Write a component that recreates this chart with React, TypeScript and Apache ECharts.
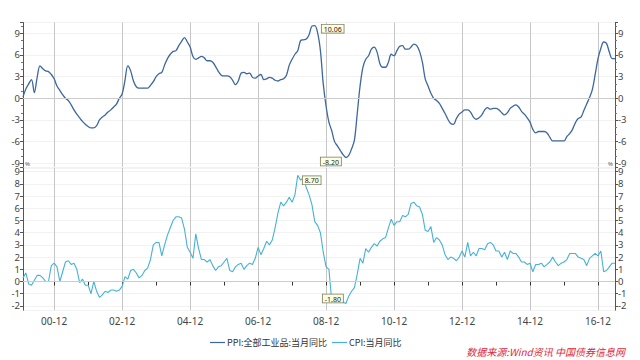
import React, { useEffect, useRef } from 'react';
import * as echarts from 'echarts';

// Monthly categories 2000-01 .. 2017-06
const months: string[] = [];
for (let y = 2000; y <= 2017; y++) {
  for (let m = 1; m <= 12; m++) {
    if (y === 2017 && m > 6) break;
    months.push(`${y}-${m < 10 ? '0' + m : m}`);
  }
}

// PPI: all industrial products, YoY (%)
const ppi = [
  0.2, 1.3, 2.0, 2.6, 0.8, 2.9, 4.5, 4.1, 3.8, 3.7, 3.3, 2.7,
  1.7, 1.1, 0.5, 0.0, -0.3, -0.9, -1.6, -2.2, -2.7, -3.2, -3.6, -3.9,
  -4.1, -4.1, -3.8, -3.0, -2.6, -2.3, -1.9, -1.6, -1.2, -0.8, 0.0, 0.6,
  2.5, 4.5, 3.8, 2.4, 1.6, 1.4, 1.4, 1.4, 1.4, 1.8, 2.3, 3.0,
  3.4, 3.6, 4.6, 5.5, 6.1, 6.5, 6.6, 7.3, 7.9, 8.4, 7.8, 7.1,
  5.8, 5.4, 5.6, 5.8, 5.6, 5.2, 5.2, 5.0, 4.4, 3.7, 3.2, 3.1,
  3.1, 3.0, 2.5, 1.9, 2.4, 3.5, 3.6, 3.4, 3.5, 2.9, 2.8, 3.1,
  3.3, 2.6, 2.7, 2.9, 2.8, 2.5, 2.4, 2.6, 2.7, 3.2, 4.6, 5.4,
  6.1, 6.6, 8.0, 8.1, 8.2, 8.8, 10.0, 10.06, 9.1, 6.6, 2.0, -1.1,
  -3.3, -4.5, -6.0, -6.6, -7.2, -7.8, -8.2, -7.9, -7.0, -5.8, -2.1, 1.7,
  4.3, 5.4, 5.9, 6.8, 7.1, 6.4, 4.8, 4.3, 4.3, 5.0, 6.1, 5.9,
  6.6, 7.2, 7.3, 6.8, 6.8, 7.1, 7.5, 7.3, 6.5, 5.0, 2.7, 1.7,
  0.7, 0.0, -0.3, -0.7, -1.4, -2.1, -2.9, -3.5, -3.6, -2.8, -2.2, -1.9,
  -1.6, -1.6, -1.9, -2.6, -2.9, -2.7, -2.3, -1.6, -1.3, -1.5, -1.4, -1.4,
  -1.6, -2.0, -2.3, -2.0, -1.4, -1.1, -0.9, -1.2, -1.8, -2.2, -2.7, -3.3,
  -4.3, -4.8, -4.6, -4.6, -4.6, -4.8, -5.4, -5.9, -5.9, -5.9, -5.9, -5.9,
  -5.3, -4.9, -4.3, -3.4, -2.8, -2.6, -1.7, -0.8, 0.1, 1.2, 3.3, 5.5,
  6.9, 7.8, 7.6, 6.4, 5.5, 5.5,
];

// CPI YoY (%)
const cpi = [
  0.3, 0.7, -0.2, -0.3, 0.1, 0.5, 0.5, 0.3, 0.0, 0.0, 1.3, 1.5,
  1.2, 0.0, 0.8, 1.6, 1.7, 1.4, 1.5, 1.0, -0.1, 0.2, -0.3, -0.3,
  -1.0, 0.0, -0.8, -1.3, -1.1, -0.8, -0.9, -0.7, -0.7, -0.8, -0.7, -0.4,
  0.4, 0.2, 0.9, 1.0, 0.7, 0.3, 0.5, 0.9, 1.1, 1.8, 3.0, 3.2,
  3.2, 2.1, 3.0, 3.8, 4.4, 5.0, 5.3, 5.3, 5.2, 4.3, 2.8, 2.4,
  1.9, 3.9, 2.7, 1.8, 1.8, 1.6, 1.8, 1.3, 0.9, 1.2, 1.3, 1.6,
  1.9, 0.9, 0.8, 1.2, 1.4, 1.5, 1.0, 1.3, 1.5, 1.4, 1.9, 2.8,
  2.2, 2.7, 3.3, 3.0, 3.4, 4.4, 5.6, 6.5, 6.2, 6.5, 6.9, 6.5,
  7.1, 8.7, 8.3, 8.5, 7.7, 7.1, 6.3, 4.9, 4.6, 4.0, 2.4, 1.2,
  1.0, -1.6, -1.2, -1.5, -1.4, -1.7, -1.8, -1.2, -0.8, -0.5, 0.6, 1.9,
  1.5, 2.7, 2.4, 2.8, 3.1, 2.9, 3.3, 3.5, 3.6, 4.4, 5.1, 4.6,
  4.9, 4.9, 5.4, 5.3, 5.5, 6.4, 6.5, 6.2, 6.1, 5.5, 4.2, 4.1,
  4.5, 3.2, 3.6, 3.4, 3.0, 2.2, 1.8, 2.0, 1.9, 1.7, 2.0, 2.5,
  2.0, 3.2, 2.1, 2.4, 2.1, 2.7, 2.7, 2.6, 3.1, 3.2, 3.0, 2.5,
  2.5, 2.0, 2.4, 1.8, 2.5, 2.3, 2.3, 2.0, 1.6, 1.6, 1.4, 1.5,
  0.8, 1.4, 1.4, 1.5, 1.2, 1.4, 1.6, 2.0, 1.6, 1.3, 1.5, 1.6,
  1.8, 2.3, 2.3, 2.3, 2.0, 1.9, 1.8, 1.3, 1.9, 2.1, 2.3, 2.1,
  2.5, 0.8, 0.9, 1.2, 1.5, 1.5,
];

const seriesNames = ['PPI:全部工业品:当月同比', 'CPI:当月同比'];
const sourceText = '数据来源:Wind资讯 中国债券信息网';

const FONT = "'Noto Sans', 'Noto Sans CJK SC', sans-serif";
const PPI_COLOR = '#3c679f';
const CPI_COLOR = '#45b2d6';

const isLabelIdx = (i: number) => i % 24 === 11;
const isTickIdx = (i: number) => i % 12 === 11;

const markLabel = {
  show: true,
  formatter: (p: any) => Number(p.value).toFixed(2),
  fontSize: 7,
  fontFamily: FONT,
  color: '#222',
  backgroundColor: '#ffffe0',
  borderColor: '#7a7a60',
  borderWidth: 0.8,
  padding: [1, 2, 0, 2],
};

function yAxisCfg(grid: number, pos: 'left' | 'right', min: number, max: number, step: number, split: boolean, withName: boolean) {
  return {
    type: 'value',
    gridIndex: grid,
    position: pos,
    min,
    max,
    minInterval: step,
    maxInterval: step,
    splitNumber: 10,
    name: withName ? '%' : '',
    nameLocation: 'end',
    nameGap: -1,
    nameTextStyle: {
      fontSize: 6,
      lineHeight: 6,
      color: '#555',
      fontFamily: FONT,
      align: pos === 'left' ? 'left' : 'right',
      verticalAlign: 'top',
      padding: pos === 'left' ? [1, 0, 0, 2] : [1, 2, 0, 0],
    },
    axisLine: { show: true, lineStyle: { color: '#555', width: 1 } },
    axisTick: { show: true, length: 3, lineStyle: { color: '#555' } },
    minorTick: step === 3 ? { show: true, splitNumber: 3, length: 2, lineStyle: { color: '#777' } } : { show: false },
    axisLabel: {
      show: true,
      fontSize: 9.5,
      lineHeight: 8,
      color: '#444',
      fontFamily: FONT,
      margin: 3,
      showMinLabel: false,
      showMaxLabel: false,
    },
    splitLine: { show: split, lineStyle: { color: '#f2f2f2', width: 1 } },
  };
}

export default function App() {
  const ref = useRef<HTMLDivElement>(null);

  useEffect(() => {
    document.body.style.margin = '0';
    if (!ref.current) return;
    const chart = echarts.init(ref.current, undefined, { renderer: 'svg' });

    const option: any = {
      animation: false,
      backgroundColor: '#ffffff',
      grid: [
        { left: 23, right: 25, top: 22.5, height: 144.4 },
        { left: 23, right: 25, top: 168, height: 142.2 },
      ],
      legend: {
        left: 205,
        top: 333,
        icon: 'rect',
        itemWidth: 15,
        itemHeight: 1.2,
        itemGap: 5,
        data: seriesNames,
        textStyle: { fontSize: 9, color: '#333', fontFamily: "'Noto Sans CJK SC', sans-serif", padding: [0, 0, 0, -3] },
      },
      xAxis: [
        {
          type: 'category',
          gridIndex: 0,
          data: months,
          boundaryGap: false,
          axisLine: { show: false },
          axisTick: { show: false },
          axisLabel: { show: false },
          splitLine: { show: true, interval: (i: number) => isLabelIdx(i), lineStyle: { color: '#c6c6c6', width: 1 } },
        },
        {
          type: 'category',
          gridIndex: 1,
          data: months,
          boundaryGap: false,
          axisLine: { show: true, lineStyle: { color: '#333', width: 1.2 } },
          axisTick: { show: true, length: 4, interval: (i: number) => isTickIdx(i), lineStyle: { color: '#333' } },
          axisLabel: {
            show: true,
            interval: (i: number) => isLabelIdx(i),
            formatter: (v: string) => v.slice(2),
            fontSize: 10,
            color: '#444',
            fontFamily: FONT,
            margin: 6,
          },
          splitLine: { show: true, interval: (i: number) => isLabelIdx(i), lineStyle: { color: '#c6c6c6', width: 1 } },
        },
      ],
      yAxis: [
        yAxisCfg(0, 'left', -9.5, 10.5, 3, true, false),
        yAxisCfg(0, 'right', -9.5, 10.5, 3, false, false),
        yAxisCfg(1, 'left', -2.35, 9.3, 1, true, true),
        yAxisCfg(1, 'right', -2.35, 9.3, 1, false, true),
      ],
      series: [
        {
          name: seriesNames[0],
          type: 'line',
          xAxisIndex: 0,
          yAxisIndex: 0,
          data: ppi,
          symbol: 'none',
          smooth: 0.35,
          lineStyle: { color: PPI_COLOR, width: 1.3 },
          itemStyle: { color: PPI_COLOR },
          markLine: {
            silent: true,
            symbol: 'none',
            label: { show: false },
            lineStyle: { color: '#cccccc', type: 'solid', width: 1 },
            data: [{ yAxis: 0 }],
          },
          markPoint: {
            symbol: 'circle',
            symbolSize: 2,
            itemStyle: { color: 'rgba(0,0,0,0)' },
            label: markLabel,
            data: [
              { type: 'max', label: { position: [8, 0] } },
              { type: 'min', label: { position: [-4, 1], align: 'right' } },
            ],
          },
          z: 3,
        },
        {
          name: seriesNames[1],
          type: 'line',
          xAxisIndex: 1,
          yAxisIndex: 2,
          data: cpi,
          symbol: 'none',
          lineStyle: { color: CPI_COLOR, width: 1.1 },
          itemStyle: { color: CPI_COLOR },
          markLine: {
            silent: true,
            symbol: 'none',
            label: { show: false },
            lineStyle: { color: '#cccccc', type: 'solid', width: 1 },
            data: [{ yAxis: 0 }],
          },
          markPoint: {
            symbol: 'circle',
            symbolSize: 2,
            itemStyle: { color: 'rgba(0,0,0,0)' },
            label: markLabel,
            data: [
              { type: 'max', label: { position: [6, 2] } },
              { type: 'min', label: { position: [-2, 0], align: 'right', verticalAlign: 'bottom' } },
            ],
          },
          z: 3,
        },
      ],
      graphic: [
        {
          type: 'text',
          right: 15,
          top: 346,
          style: {
            text: sourceText,
            fill: '#e0283a',
            font: "italic 10px 'Noto Sans CJK SC', sans-serif",
          },
        },
      ],
    };

    chart.setOption(option);
    return () => chart.dispose();
  }, []);

  return <div ref={ref} style={{ width: 640, height: 360 }} />;
}
